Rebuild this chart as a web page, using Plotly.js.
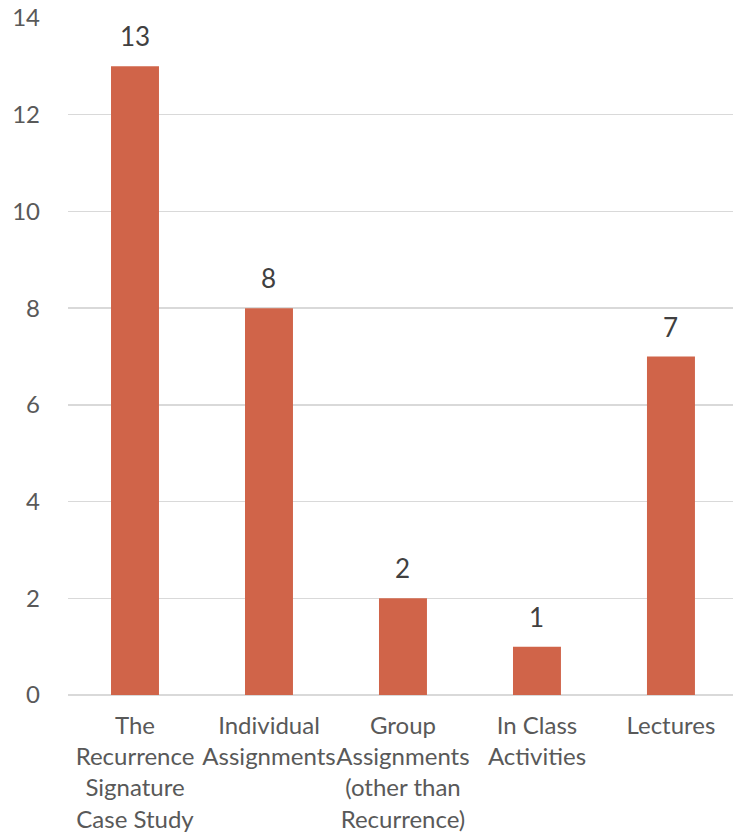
<!DOCTYPE html>
<html><head><meta charset="utf-8">
<script src="https://cdn.plot.ly/plotly-3.0.1.min.js"></script>
<style>html,body{margin:0;padding:0;background:#fff}</style>
</head><body>
<div id="chart" style="width:733px;height:835px"></div>
<script>
const categories = ["The<br>Recurrence<br>Signature<br>Case Study", "Individual<br>Assignments", "Group<br>Assignments<br>(other than<br>Recurrence)", "In Class<br>Activities", "Lectures"];
const values = [13, 8, 2, 1, 7];
const yTicks = [0, 2, 4, 6, 8, 10, 12, 14];

const font = "Lato, 'Open Sans', sans-serif";
const trace = {
  type: "bar",
  x: [0,1,2,3,4],
  y: values,
  marker: {color: "#D06449"},
  hoverinfo: "none"
};
const annotations = values.map((v, i) => ({
  x: i, y: v, xref: "x", yref: "y",
  text: String(v), showarrow: false,
  yanchor: "bottom", yshift: 12,
  font: {family: font, size: 26, color: "#404040"}
}));
const layout = {
  width: 733, height: 835,
  margin: {l: 68, r: 0, t: 18, b: 140},
  paper_bgcolor: "#fff", plot_bgcolor: "#fff",
  showlegend: false,
  bargap: 0.642,
  font: {family: font, color: "#595959"},
  xaxis: {
    range: [-0.5, 4.463],
    tickmode: "array", tickvals: [0,1,2,3,4], ticktext: categories,
    showgrid: false, zeroline: false, showline: false,
    ticks: "", ticklabelstandoff: 14,
    tickfont: {family: font, size: 24, color: "#595959"},
    tickangle: 0, fixedrange: true
  },
  yaxis: {
    range: [0, 14],
    tickmode: "array", tickvals: yTicks,
    showgrid: true, gridcolor: "#D9D9D9", gridwidth: 1.5,
    zeroline: true, zerolinecolor: "#D9D9D9", zerolinewidth: 1.5,
    showline: false, ticks: "", ticklabelstandoff: 27,
    tickfont: {family: font, size: 24, color: "#595959"},
    fixedrange: true
  },
  annotations: annotations
};
Plotly.newPlot("chart", [trace], layout, {displayModeBar: false, staticPlot: true});
</script>
</body></html>
